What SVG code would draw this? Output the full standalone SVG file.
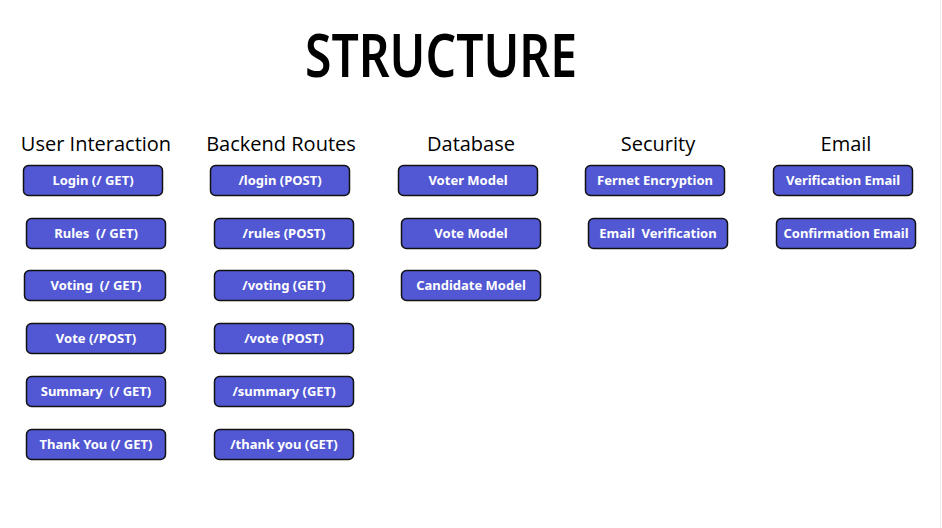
<svg xmlns="http://www.w3.org/2000/svg" width="942" height="528" viewBox="0 0 942 528">
<style>
.bg{fill:#ffffff}
.title{font-family:"Noto Sans","Open Sans",sans-serif;font-weight:600;font-size:60px;fill:#000}
.hdr{font-family:"Open Sans","Noto Sans",sans-serif;font-weight:500;font-size:20px;fill:#000;text-anchor:middle}
.box{fill:#5258D3;stroke:#111;stroke-width:1.5}
.lbl{font-family:"Noto Sans","Open Sans",sans-serif;font-weight:bold;font-size:13px;fill:#fff;text-anchor:middle;white-space:pre}
</style>
<rect class="bg" x="0" y="0" width="942" height="528"/>
<line x1="940.5" y1="0" x2="940.5" y2="528" stroke="#ececec" stroke-width="1"/>
<text class="title" x="305" y="77" textLength="272" lengthAdjust="spacingAndGlyphs">STRUCTURE</text>
<g id="headers">
<text class="hdr" x="96" y="151">User Interaction</text>
<text class="hdr" x="281" y="151">Backend Routes</text>
<text class="hdr" x="471" y="151">Database</text>
<text class="hdr" x="658" y="151">Security</text>
<text class="hdr" x="846" y="151">Email</text>
</g>
<g id="connectors"></g>
<g id="ui-login"><rect class="box" x="23.5" y="165.5" width="139" height="30" rx="5"/><text class="lbl" x="93" y="185">Login (/ GET)</text></g>
<g id="ui-rules"><rect class="box" x="26.5" y="218.5" width="139" height="30" rx="5"/><text class="lbl" x="96" y="238" xml:space="preserve">Rules  (/ GET)</text></g>
<g id="ui-voting"><rect class="box" x="24.5" y="270.5" width="141" height="30" rx="5"/><text class="lbl" x="96" y="290" xml:space="preserve">Voting  (/ GET)</text></g>
<g id="ui-vote"><rect class="box" x="26.5" y="323.5" width="139" height="30" rx="5"/><text class="lbl" x="96" y="343">Vote (/POST)</text></g>
<g id="ui-summary"><rect class="box" x="26.5" y="376.5" width="139" height="30" rx="5"/><text class="lbl" x="96" y="396" xml:space="preserve">Summary  (/ GET)</text></g>
<g id="ui-thankyou"><rect class="box" x="26.5" y="429.5" width="139" height="30" rx="5"/><text class="lbl" x="96" y="449">Thank You (/ GET)</text></g>
<g id="be-login"><rect class="box" x="210.5" y="165.5" width="139" height="30" rx="5"/><text class="lbl" x="280" y="185">/login (POST)</text></g>
<g id="be-rules"><rect class="box" x="214.5" y="218.5" width="139" height="30" rx="5"/><text class="lbl" x="284" y="238">/rules (POST)</text></g>
<g id="be-voting"><rect class="box" x="214.5" y="270.5" width="139" height="30" rx="5"/><text class="lbl" x="284" y="290">/voting (GET)</text></g>
<g id="be-vote"><rect class="box" x="214.5" y="323.5" width="139" height="30" rx="5"/><text class="lbl" x="284" y="343">/vote (POST)</text></g>
<g id="be-summary"><rect class="box" x="214.5" y="376.5" width="139" height="30" rx="5"/><text class="lbl" x="284" y="396">/summary (GET)</text></g>
<g id="be-thankyou"><rect class="box" x="214.5" y="429.5" width="139" height="30" rx="5"/><text class="lbl" x="284" y="449">/thank you (GET)</text></g>
<g id="db-voter"><rect class="box" x="398.5" y="165.5" width="139" height="30" rx="5"/><text class="lbl" x="468" y="185">Voter Model</text></g>
<g id="db-vote"><rect class="box" x="401.5" y="218.5" width="139" height="30" rx="5"/><text class="lbl" x="471" y="238">Vote Model</text></g>
<g id="db-candidate"><rect class="box" x="401.5" y="270.5" width="139" height="30" rx="5"/><text class="lbl" x="471" y="290">Candidate Model</text></g>
<g id="sec-fernet"><rect class="box" x="585.5" y="165.5" width="139" height="30" rx="5"/><text class="lbl" x="655" y="185">Fernet Encryption</text></g>
<g id="sec-emailver"><rect class="box" x="588.5" y="218.5" width="139" height="30" rx="5"/><text class="lbl" x="658" y="238" xml:space="preserve">Email  Verification</text></g>
<g id="em-verification"><rect class="box" x="773.5" y="165.5" width="139" height="30" rx="5"/><text class="lbl" x="843" y="185">Verification Email</text></g>
<g id="em-confirmation"><rect class="box" x="776.5" y="218.5" width="139" height="30" rx="5"/><text class="lbl" x="846" y="238">Confirmation Email</text></g>
</svg>
